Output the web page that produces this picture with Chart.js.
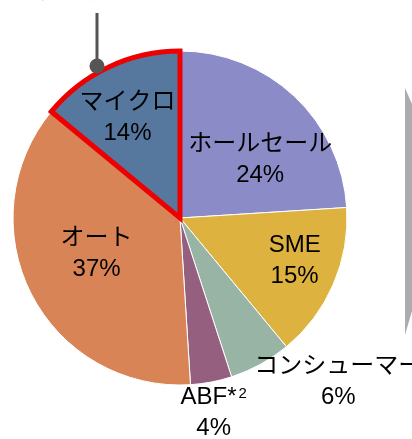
<!DOCTYPE html>
<html lang="ja">
<head>
<meta charset="utf-8">
<title>セグメント構成比</title>
<script src="https://cdn.jsdelivr.net/npm/chart.js@4.4.0/dist/chart.umd.min.js"></script>
<style>
  html, body { margin: 0; padding: 0; background: #ffffff; }
  #wrap { position: relative; width: 412px; height: 439px; overflow: hidden; }
  canvas { display: block; }
</style>
</head>
<body>
<div id="wrap"><canvas id="pie" width="412" height="439"></canvas></div>
<script>
// Segment names (a trailing "*n" is drawn as a footnote mark)
const categories = ['ホールセール', 'SME', 'コンシューマー', 'ABF*2', 'オート', 'マイクロ'];
// Share of each segment, %
const shares = [24, 15, 6, 4, 37, 14];
// Slice fills
const sliceColors = ['#8b8cc7', '#deb23f', '#97b4a5', '#955f7f', '#d88456', '#56789f'];
// Highlighted segment
const highlighted = 'マイクロ';
// Label nudges from each slice's centre point (px)
const labelNudges = [[23, 3], [38, 10], [118, 91], [18, 113], [-9, -2], [-17, -25]];

const FONT_FAMILY = '"Liberation Sans", "Noto Sans CJK JP", Arial, sans-serif';
const LINE_GAP = 31;

// Split "ABF*2" into main text "ABF*" and footnote digit "2"
function splitNote(name) {
  const m = name.match(/^(.*\*)(\d+)$/);
  return m ? { main: m[1], note: m[2] } : { main: name, note: '' };
}

const sliceLabels = {
  id: 'sliceLabels',
  afterDatasetsDraw(chart) {
    const ctx = chart.ctx;
    const meta = chart.getDatasetMeta(0);
    ctx.save();
    ctx.fillStyle = '#000000';
    ctx.textBaseline = 'middle';
    meta.data.forEach((arc, i) => {
      const c = arc.getCenterPoint();
      const x = c.x + labelNudges[i][0];
      const y = c.y + labelNudges[i][1];
      const { main, note } = splitNote(categories[i]);
      ctx.font = '24px ' + FONT_FAMILY;
      const wMain = ctx.measureText(main).width;
      ctx.font = '15px ' + FONT_FAMILY;
      const wNote = note ? ctx.measureText(note).width + 2 : 0;
      const left = x - (wMain + wNote) / 2;
      ctx.textAlign = 'left';
      ctx.font = '24px ' + FONT_FAMILY;
      ctx.fillText(main, left, y - LINE_GAP / 2);
      if (note) {
        ctx.font = '15px ' + FONT_FAMILY;
        ctx.fillText(note, left + wMain + 2, y - LINE_GAP / 2 - 4);
      }
      ctx.font = '24px ' + FONT_FAMILY;
      ctx.textAlign = 'center';
      ctx.fillText(shares[i] + '%', x, y + LINE_GAP / 2);
    });
    ctx.restore();
  }
};

// Callout pin above the highlighted slice, caption in red, and the grey panel edge on the right
const decorations = {
  id: 'decorations',
  afterDraw(chart) {
    const ctx = chart.ctx;
    ctx.save();
    // caption (runs off the top edge)
    ctx.fillStyle = '#ff2020';
    ctx.font = '24px ' + FONT_FAMILY;
    ctx.textAlign = 'center';
    ctx.textBaseline = 'alphabetic';
    ctx.fillText('注力セグメント', 100, -2);
    // pin
    ctx.strokeStyle = '#555555';
    ctx.lineWidth = 3;
    ctx.beginPath();
    ctx.moveTo(97, 13);
    ctx.lineTo(97, 66);
    ctx.stroke();
    ctx.fillStyle = '#555555';
    ctx.beginPath();
    ctx.arc(97, 66, 7.5, 0, Math.PI * 2);
    ctx.fill();
    // grey panel edge
    ctx.fillStyle = '#acacac';
    ctx.beginPath();
    ctx.moveTo(405, 88);
    ctx.lineTo(412, 104);
    ctx.lineTo(412, 311);
    ctx.lineTo(405, 335);
    ctx.closePath();
    ctx.fill();
    ctx.restore();
  }
};

new Chart(document.getElementById('pie'), {
  type: 'pie',
  data: {
    labels: categories,
    datasets: [{
      data: shares,
      backgroundColor: sliceColors,
      borderColor: categories.map(c => c === highlighted ? '#ee0000' : '#ffffff'),
      borderWidth: categories.map(c => c === highlighted ? 5 : 1),
      borderJoinStyle: 'miter'
    }]
  },
  options: {
    responsive: false,
    animation: false,
    devicePixelRatio: 1,
    radius: 167,
    rotation: 0,
    layout: { padding: { left: 10, right: 62, top: 48, bottom: 51 } },
    plugins: {
      legend: { display: false },
      tooltip: { enabled: false }
    }
  },
  plugins: [sliceLabels, decorations]
});
</script>
</body>
</html>
